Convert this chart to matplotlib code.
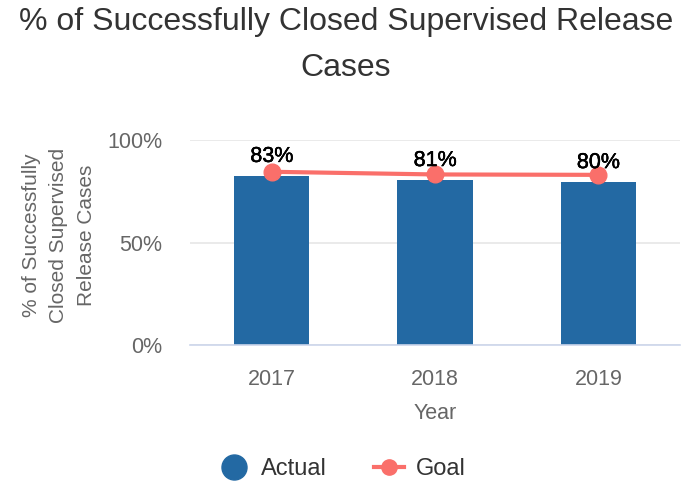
import numpy as np
import matplotlib
matplotlib.use('Agg')
import matplotlib.pyplot as plt
import matplotlib.patheffects as pe
from matplotlib.lines import Line2D

plt.rcParams['font.family'] = ['Liberation Sans', 'DejaVu Sans']

# dados
anos = ['2017', '2018', '2019']
actual = [82.5, 80.5, 79.5]
goal = [84.5, 83.2, 83.0]
rotulos = ['83%', '81%', '80%']

cor_barra = '#2369a3'
cor_meta = '#fa6f6a'

fig = plt.figure(figsize=(6.92, 4.87), dpi=100)
ax = fig.add_axes([0.2746, 0.2916, 0.7081, 0.4209])

x = np.arange(len(anos))
ax.bar(x, actual, width=0.46, color=cor_barra, zorder=2)
ax.plot(x, goal, color=cor_meta, linewidth=3, marker='o', markersize=12,
        zorder=3)

for xi, v, r in zip(x, actual, rotulos):
    ax.annotate(r, (xi, v), xytext=(0, 14), textcoords='offset points',
                ha='center', va='center', fontsize=15.5, color='black',
                zorder=4,
                path_effects=[pe.withStroke(linewidth=0.3, foreground='black'),
                              pe.Normal()])

ax.set_xlim(-0.5, 2.5)
ax.set_ylim(0, 100)
ax.set_yticks([0, 50, 100])
ax.set_yticklabels(['0%', '50%', '100%'])
ax.set_xticks(x)
ax.set_xticklabels(anos)
ax.grid(axis='y', color='#e6e6e6', linewidth=1.2, zorder=0)
ax.set_axisbelow(True)
for s in ['top', 'right', 'left']:
    ax.spines[s].set_visible(False)
ax.spines['bottom'].set_color('#ccd6eb')
ax.spines['bottom'].set_linewidth(1.2)
ax.tick_params(axis='y', length=0, labelsize=15.5, labelcolor='#666666', pad=20)
ax.tick_params(axis='x', length=0, labelsize=15.5, labelcolor='#666666', pad=17)

ax.set_xlabel('Year', fontsize=15.5, color='#666666', labelpad=10)
fig.text(0.085, 0.517, '% of Successfully\nClosed Supervised\nRelease Cases',
         rotation=90, ha='center', va='center', fontsize=15,
         color='#666666', linespacing=1.55)

fig.suptitle('% of Successfully Closed Supervised Release\nCases', y=0.985,
             fontsize=23, color='#333333', linespacing=1.7)

handles = [Line2D([], [], linestyle='none', marker='o', markersize=18,
                  color=cor_barra),
           Line2D([], [], color=cor_meta, linewidth=3, marker='o',
                  markersize=11)]
fig.legend(handles, ['Actual', 'Goal'], loc='center', ncol=2,
           bbox_to_anchor=(0.495, 0.037), frameon=False, fontsize=17,
           labelcolor='#333333', handlelength=1.27, columnspacing=2.0,
           handletextpad=0.5)

fig.savefig('out.png', dpi=100)
